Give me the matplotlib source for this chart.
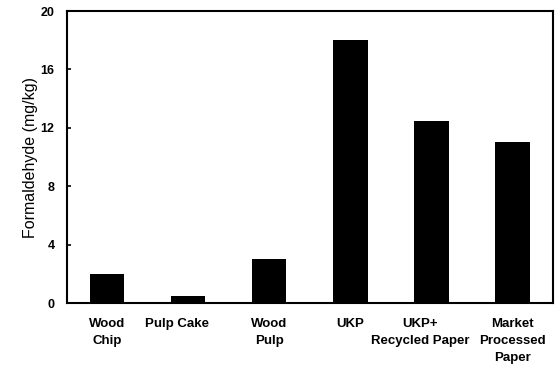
import matplotlib
matplotlib.use("Agg")
import matplotlib.pyplot as plt
from matplotlib.transforms import ScaledTranslation

plt.rcParams['font.family'] = ['Liberation Sans', 'DejaVu Sans']

# formaldehyde content by sample type
samples = ['Wood\nChip', 'Pulp Cake', 'Wood\nPulp', 'UKP', 'UKP+\nRecycled Paper', 'Market\nProcessed\nPaper']
formaldehyde = [2.0, 0.5, 3.0, 18.0, 12.5, 11.0]
yticks = [0, 4, 8, 12, 16, 20]

fig = plt.figure(figsize=(5.6, 3.68), dpi=100)
ax = fig.add_axes([0.1196, 0.1766, 0.8679, 0.7935])

x = range(len(samples))
ax.bar(x, formaldehyde, width=0.42, color='black')

ax.set_xlim(-0.5, len(samples) - 0.5)
ax.set_ylim(0, 20)
ax.set_yticks(yticks)
ax.set_xticks(list(x))
ax.set_xticklabels(samples, fontsize=9.5, fontweight='bold', linespacing=1.55, va='top')
ax.tick_params(axis='x', length=0, pad=11)
ax.tick_params(axis='y', direction='in', length=3, width=1.2, labelsize=9, pad=9)
for lbl in ax.get_yticklabels():
    lbl.set_fontweight('bold')

# nudge the two labels that sit a little left of their bars
labels = ax.get_xticklabels()
for i in (1, 4):
    labels[i].set_transform(labels[i].get_transform() +
                            ScaledTranslation(-8 / 72, 0, fig.dpi_scale_trans))

for sp in ax.spines.values():
    sp.set_linewidth(1.5)

ax.set_ylabel('Formaldehyde (mg/kg)', fontsize=11.5, labelpad=2)

plt.savefig('out.png', dpi=100)
